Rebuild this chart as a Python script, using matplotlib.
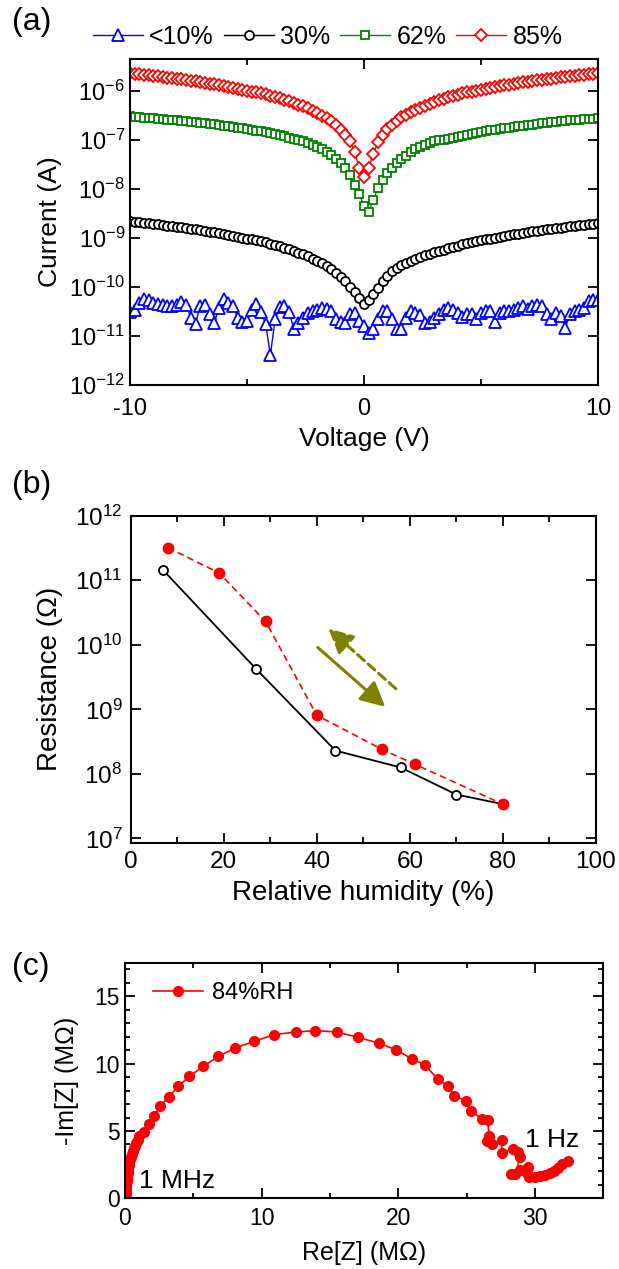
import numpy as np
import matplotlib.pyplot as plt
from matplotlib.ticker import MultipleLocator, LogLocator, NullLocator, LogFormatterMathtext

plt.rcParams['font.family'] = ['Liberation Sans', 'DejaVu Sans']
plt.rcParams['mathtext.fontset'] = 'custom'
plt.rcParams['mathtext.rm'] = 'Liberation Sans'
plt.rcParams['mathtext.it'] = 'Liberation Sans:italic'
plt.rcParams['mathtext.default'] = 'regular'
plt.rcParams['axes.unicode_minus'] = False
plt.rcParams['axes.linewidth'] = 1.5

# ---- (a) I-V curves, log10 of current (A) ----
volt = [-10.0, -9.8, -9.6, -9.4, -9.2, -9.0, -8.8, -8.6, -8.4, -8.2,
        -8.0, -7.8, -7.6, -7.4, -7.2, -7.0, -6.8, -6.6, -6.4, -6.2,
        -6.0, -5.8, -5.6, -5.4, -5.2, -5.0, -4.8, -4.6, -4.4, -4.2,
        -4.0, -3.8, -3.6, -3.4, -3.2, -3.0, -2.8, -2.6, -2.4, -2.2,
        -2.0, -1.8, -1.6, -1.4, -1.2, -1.0, -0.8, -0.6, -0.4, -0.2,
        0.0, 0.2, 0.4, 0.6, 0.8, 1.0, 1.2, 1.4, 1.6, 1.8,
        2.0, 2.2, 2.4, 2.6, 2.8, 3.0, 3.2, 3.4, 3.6, 3.8,
        4.0, 4.2, 4.4, 4.6, 4.8, 5.0, 5.2, 5.4, 5.6, 5.8,
        6.0, 6.2, 6.4, 6.6, 6.8, 7.0, 7.2, 7.4, 7.6, 7.8,
        8.0, 8.2, 8.4, 8.6, 8.8, 9.0, 9.2, 9.4, 9.6, 9.8, 10.0]

log_i_10 = [-10.50, -10.47, -10.32, -10.24, -10.27, -10.32, -10.34, -10.36, -10.38, -10.39,
            -10.37, -10.31, -10.36, -10.63, -10.75, -10.38, -10.36, -10.56, -10.73, -10.43,
            -10.24, -10.32, -10.38, -10.63, -10.72, -10.70, -10.46, -10.34, -10.51, -10.76,
            -11.39, -10.66, -10.41, -10.39, -10.51, -10.85, -10.73, -10.63, -10.53, -10.49,
            -10.46, -10.43, -10.45, -10.49, -10.65, -10.72, -10.73, -10.56, -10.53, -10.70,
            -10.80,
            -10.93, -10.86, -10.66, -10.49, -10.49, -10.65, -10.86, -10.85, -10.63, -10.49,
            -10.53, -10.58, -10.73, -10.72, -10.63, -10.56, -10.46, -10.43, -10.46, -10.53,
            -10.61, -10.56, -10.56, -10.65, -10.53, -10.49, -10.49, -10.72, -10.53, -10.49,
            -10.49, -10.47, -10.43, -10.39, -10.45, -10.39, -10.36, -10.39, -10.56, -10.66,
            -10.53, -10.59, -10.83, -10.56, -10.49, -10.46, -10.43, -10.29, -10.26, -10.26]

log_i_30 = [-8.66, -8.67, -8.68, -8.69, -8.70, -8.71, -8.72, -8.74, -8.75, -8.76,
            -8.77, -8.78, -8.80, -8.81, -8.82, -8.84, -8.85, -8.87, -8.88, -8.90,
            -8.92, -8.93, -8.95, -8.97, -8.99, -9.01, -9.03, -9.05, -9.07, -9.09,
            -9.12, -9.14, -9.17, -9.20, -9.23, -9.26, -9.30, -9.33, -9.37, -9.42,
            -9.46, -9.52, -9.58, -9.64, -9.71, -9.79, -9.88, -9.99, -10.11, -10.22,
            -10.34,
            -10.26, -10.15, -10.03, -9.88, -9.77, -9.68, -9.61, -9.55, -9.50, -9.46,
            -9.42, -9.38, -9.35, -9.32, -9.29, -9.26, -9.24, -9.21, -9.18, -9.16,
            -9.13, -9.11, -9.09, -9.07, -9.05, -9.03, -9.01, -8.99, -8.97, -8.96,
            -8.94, -8.92, -8.91, -8.89, -8.88, -8.86, -8.85, -8.84, -8.82, -8.81,
            -8.80, -8.79, -8.78, -8.76, -8.75, -8.74, -8.73, -8.72, -8.71, -8.70]

log_i_62 = [-6.52, -6.53, -6.54, -6.55, -6.55, -6.56, -6.57, -6.58, -6.59, -6.59,
            -6.60, -6.61, -6.62, -6.63, -6.64, -6.65, -6.66, -6.67, -6.68, -6.70,
            -6.71, -6.72, -6.73, -6.75, -6.76, -6.78, -6.79, -6.81, -6.82, -6.84,
            -6.86, -6.88, -6.90, -6.92, -6.95, -6.97, -7.00, -7.03, -7.06, -7.10,
            -7.14, -7.19, -7.24, -7.30, -7.38, -7.47, -7.58, -7.71, -7.92, -8.10,
            -8.35,
            -8.46, -8.22, -7.98, -7.81, -7.68, -7.57, -7.47, -7.39, -7.32, -7.25,
            -7.19, -7.14, -7.10, -7.06, -7.03, -7.00, -6.99, -6.97, -6.95, -6.93,
            -6.91, -6.89, -6.87, -6.85, -6.83, -6.82, -6.80, -6.79, -6.77, -6.76,
            -6.75, -6.73, -6.72, -6.71, -6.70, -6.69, -6.68, -6.66, -6.65, -6.64,
            -6.63, -6.62, -6.61, -6.60, -6.59, -6.59, -6.58, -6.57, -6.57, -6.56]

log_i_85 = [-5.64, -5.65, -5.66, -5.67, -5.68, -5.69, -5.70, -5.72, -5.73, -5.74,
            -5.75, -5.76, -5.78, -5.79, -5.80, -5.82, -5.83, -5.85, -5.86, -5.88,
            -5.90, -5.91, -5.93, -5.95, -5.97, -5.99, -6.01, -6.03, -6.05, -6.07,
            -6.10, -6.12, -6.15, -6.18, -6.21, -6.24, -6.28, -6.31, -6.35, -6.40,
            -6.44, -6.50, -6.55, -6.62, -6.70, -6.79, -6.89, -7.02, -7.25, -7.57,
            -7.75,
            -7.57, -7.28, -7.05, -6.90, -6.78, -6.69, -6.61, -6.54, -6.48, -6.43,
            -6.38, -6.34, -6.30, -6.26, -6.22, -6.19, -6.16, -6.13, -6.10, -6.08,
            -6.05, -6.03, -6.01, -5.99, -5.97, -5.95, -5.93, -5.92, -5.90, -5.88,
            -5.87, -5.85, -5.84, -5.82, -5.81, -5.80, -5.78, -5.77, -5.76, -5.75,
            -5.74, -5.72, -5.71, -5.70, -5.69, -5.68, -5.67, -5.66, -5.65, -5.64]

# ---- (b) resistance vs humidity ----
rh_up = [7, 27, 44, 58, 70, 80]
res_up = [1.43e11, 4.2e9, 2.3e8, 1.26e8, 4.8e7, 3.4e7]
rh_down = [8, 19, 29, 40, 54, 61, 80]
res_down = [3.2e11, 1.3e11, 2.3e10, 8.1e8, 2.4e8, 1.42e8, 3.4e7]

# ---- (c) impedance at 84 %RH, MOhm ----
re_z = [0.02, 0.03, 0.04, 0.05, 0.06, 0.07, 0.09, 0.10, 0.12, 0.14,
        0.16, 0.19, 0.22, 0.25, 0.29, 0.33, 0.38, 0.43, 0.49, 0.56,
        0.63, 0.72, 0.82, 0.93, 1.05, 1.40, 1.78, 2.14, 2.58, 3.22,
        3.91, 4.69, 5.72, 6.84, 8.05, 9.44, 10.90, 12.48, 13.94, 15.52,
        17.06, 18.56, 19.83, 21.00, 21.92, 22.90, 23.67, 24.11, 24.96, 25.33,
        26.11, 26.55, 26.64, 26.47, 26.89, 27.57, 27.57, 28.42, 28.78, 28.91,
        28.55, 28.25, 28.90, 29.51, 29.45, 29.60, 30.00, 30.40, 30.75, 31.10,
        31.40, 31.70, 31.95, 32.43]
im_z = [0.05, 0.20, 0.35, 0.50, 0.65, 0.80, 0.95, 1.10, 1.30, 1.50,
        1.70, 1.90, 2.10, 2.30, 2.50, 2.70, 2.90, 3.10, 3.30, 3.50,
        3.70, 3.90, 4.10, 4.35, 4.60, 4.95, 5.55, 6.15, 6.82, 7.56,
        8.31, 9.05, 9.79, 10.54, 11.16, 11.65, 12.15, 12.35, 12.45, 12.35,
        11.95, 11.53, 11.03, 10.36, 9.92, 8.85, 8.31, 7.61, 7.24, 6.52,
        5.88, 5.78, 4.64, 4.29, 4.04, 4.34, 3.40, 3.64, 3.47, 3.05,
        1.80, 1.79, 2.11, 2.36, 1.85, 1.56, 1.56, 1.66, 1.76, 1.91,
        2.06, 2.23, 2.55, 2.78]

olive = '#808000'

fig = plt.figure(figsize=(6.19, 12.69), dpi=100)
axa = fig.add_axes([0.2100, 0.6966, 0.7561, 0.2569])
axb = fig.add_axes([0.2111, 0.3357, 0.7517, 0.2579])
axc = fig.add_axes([0.2019, 0.0557, 0.7727, 0.1857])


def style(ax, fs, padx, pady):
    ax.tick_params(which='both', direction='in', top=True, right=True, width=1.3, labelsize=fs)
    ax.tick_params(which='major', length=7.5)
    ax.tick_params(which='minor', length=4)
    ax.tick_params(axis='x', pad=padx)
    ax.tick_params(axis='y', pad=pady)


# (a)
v = np.array(volt)
series = [(log_i_10, 'blue', '^', 8, '<10%'),
          (log_i_30, 'black', 'o', 6.5, '30%'),
          (log_i_62, 'green', 's', 6.3, '62%'),
          (log_i_85, 'red', 'D', 6.2, '85%')]
handles = []
for vals, col, mk, ms, lab in series:
    h, = axa.plot(v, 10.0 ** np.array(vals), color=col, marker=mk, ms=ms, mfc='white',
                  mec=col, mew=1.3, lw=1.0, label=lab)
    handles.append(h)
axa.set_yscale('log')
axa.set_xlim(-10, 10)
axa.set_ylim(1e-12, 4.5e-6)
axa.yaxis.set_major_locator(LogLocator(base=10, numticks=20))
axa.yaxis.set_major_formatter(LogFormatterMathtext())
axa.yaxis.set_minor_locator(NullLocator())
axa.xaxis.set_major_locator(MultipleLocator(10))
axa.xaxis.set_minor_locator(MultipleLocator(5))
style(axa, 17, 9, 3.5)
axa.set_xlabel('Voltage (V)', fontsize=19, va='center')
axa.set_ylabel('Current (A)', fontsize=19, va='center')
axa.xaxis.set_label_coords(0.5, -0.165)
axa.yaxis.set_label_coords(-0.171, 0.5)
fig.legend(handles=handles, loc='center left', bbox_to_anchor=(0.150, 0.9708), ncol=4,
           frameon=False, fontsize=18, handlelength=2.0, handletextpad=0.25,
           columnspacing=0.4, borderpad=0, borderaxespad=0)

# (b)
axb.plot(rh_up, res_up, color='black', marker='o', ms=6.5, mfc='white', mec='black',
         mew=1.3, lw=1.3)
axb.plot(rh_down, res_down, color='red', marker='o', ms=7.5, mfc='red', mec='red',
         lw=1.2, ls=(0, (4, 2.5)))
axb.set_yscale('log')
axb.set_xlim(0, 100)
axb.set_ylim(10 ** 6.93, 1e12)
axb.yaxis.set_major_locator(LogLocator(base=10, numticks=20))
axb.yaxis.set_major_formatter(LogFormatterMathtext())
axb.yaxis.set_minor_locator(NullLocator())
axb.xaxis.set_major_locator(MultipleLocator(20))
axb.xaxis.set_minor_locator(MultipleLocator(10))
style(axb, 17.5, 6, 6)
axb.annotate('', xy=(54.7, 10 ** 9.04), xytext=(40.2, 10 ** 9.96),
             arrowprops=dict(arrowstyle='-|>,head_length=0.75,head_width=0.38',
                             color=olive, lw=2.2, mutation_scale=20,
                             shrinkA=0, shrinkB=0))
axb.annotate('', xy=(42.5, 10 ** 10.25), xytext=(57, 10 ** 9.32),
             arrowprops=dict(arrowstyle='-|>,head_length=0.75,head_width=0.38',
                             color=olive, lw=2.2, ls=(0, (3, 1.6)), mutation_scale=20,
                             shrinkA=0, shrinkB=0))
axb.set_xlabel('Relative humidity (%)', fontsize=20, va='center')
axb.set_ylabel('Resistance (\u03a9)', fontsize=20, va='center')
axb.xaxis.set_label_coords(0.5, -0.153)
axb.yaxis.set_label_coords(-0.173, 0.5)

# (c)
axc.plot(re_z, im_z, color='red', marker='o', ms=7, mfc='red', mec='red', lw=1.2,
         label='84%RH')
axc.set_xlim(0, 35)
axc.set_ylim(0, 17.5)
axc.xaxis.set_major_locator(MultipleLocator(10))
axc.xaxis.set_minor_locator(MultipleLocator(5))
axc.yaxis.set_major_locator(MultipleLocator(5))
axc.yaxis.set_minor_locator(MultipleLocator(1))
style(axc, 16.5, 6, 3.5)
axc.tick_params(which='minor', length=3.5)
axc.text(1.05, 0.75, '1 MHz', fontsize=19, va='baseline')
axc.text(29.3, 3.84, '1 Hz', fontsize=19, va='baseline')
axc.legend(loc='center left', bbox_to_anchor=(0.0585, 0.871), frameon=False, fontsize=17,
           handlelength=2.1, handletextpad=0.4, borderpad=0, borderaxespad=0)
axc.set_xlabel('Re[Z] (M\u03a9)', fontsize=18, va='center')
axc.set_ylabel('-Im[Z] (M\u03a9)', fontsize=18, va='center')
axc.xaxis.set_label_coords(0.5, -0.232)
axc.yaxis.set_label_coords(-0.121, 0.5)

fig.text(0.019, 0.9827, '(a)', fontsize=23, va='center', ha='left')
fig.text(0.019, 0.6178, '(b)', fontsize=23, va='center', ha='left')
fig.text(0.019, 0.2380, '(c)', fontsize=23, va='center', ha='left')

fig.savefig('out.png', dpi=100)
